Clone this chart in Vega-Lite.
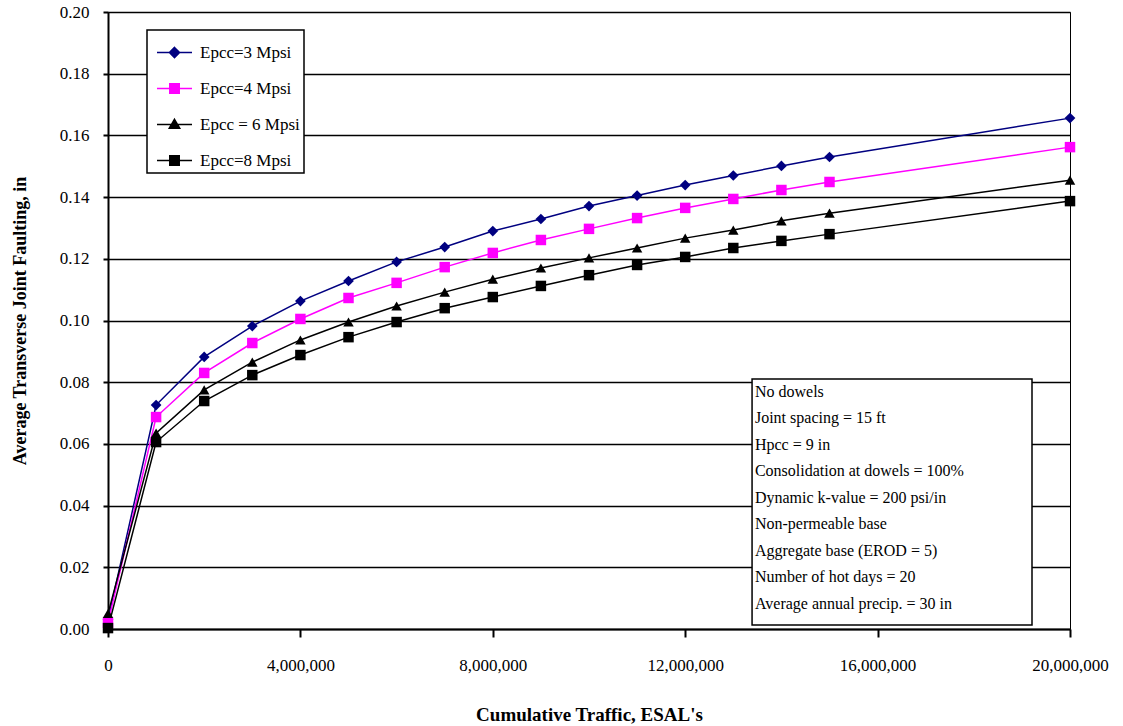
{
  "$schema": "https://vega.github.io/schema/vega-lite/v6.json",
  "width": 962,
  "height": 617,
  "autosize": {"type": "none"},
  "padding": {"left": 108, "top": 12, "right": 53, "bottom": 97},
  "background": "white",
  "config": {
    "view": {"stroke": "black", "strokeWidth": 1},
    "font": "Liberation Serif",
    "axis": {"labelFont": "Liberation Serif", "titleFont": "Liberation Serif", "labelColor": "black", "titleColor": "black"}
  },
  "datasets": {
    "faulting": [
      {"esal": 0, "fault": 0.003, "series": "Epcc=3 Mpsi"},
      {"esal": 1000000, "fault": 0.0726, "series": "Epcc=3 Mpsi"},
      {"esal": 2000000, "fault": 0.0882, "series": "Epcc=3 Mpsi"},
      {"esal": 3000000, "fault": 0.0982, "series": "Epcc=3 Mpsi"},
      {"esal": 4000000, "fault": 0.1063, "series": "Epcc=3 Mpsi"},
      {"esal": 5000000, "fault": 0.1128, "series": "Epcc=3 Mpsi"},
      {"esal": 6000000, "fault": 0.119, "series": "Epcc=3 Mpsi"},
      {"esal": 7000000, "fault": 0.1238, "series": "Epcc=3 Mpsi"},
      {"esal": 8000000, "fault": 0.129, "series": "Epcc=3 Mpsi"},
      {"esal": 9000000, "fault": 0.1329, "series": "Epcc=3 Mpsi"},
      {"esal": 10000000, "fault": 0.1371, "series": "Epcc=3 Mpsi"},
      {"esal": 11000000, "fault": 0.1405, "series": "Epcc=3 Mpsi"},
      {"esal": 12000000, "fault": 0.1439, "series": "Epcc=3 Mpsi"},
      {"esal": 13000000, "fault": 0.1470, "series": "Epcc=3 Mpsi"},
      {"esal": 14000000, "fault": 0.1501, "series": "Epcc=3 Mpsi"},
      {"esal": 15000000, "fault": 0.153, "series": "Epcc=3 Mpsi"},
      {"esal": 20000000, "fault": 0.1656, "series": "Epcc=3 Mpsi"},
      {"esal": 0, "fault": 0.002, "series": "Epcc=4 Mpsi"},
      {"esal": 1000000, "fault": 0.0687, "series": "Epcc=4 Mpsi"},
      {"esal": 2000000, "fault": 0.083, "series": "Epcc=4 Mpsi"},
      {"esal": 3000000, "fault": 0.0927, "series": "Epcc=4 Mpsi"},
      {"esal": 4000000, "fault": 0.1005, "series": "Epcc=4 Mpsi"},
      {"esal": 5000000, "fault": 0.1073, "series": "Epcc=4 Mpsi"},
      {"esal": 6000000, "fault": 0.1122, "series": "Epcc=4 Mpsi"},
      {"esal": 7000000, "fault": 0.1173, "series": "Epcc=4 Mpsi"},
      {"esal": 8000000, "fault": 0.1219, "series": "Epcc=4 Mpsi"},
      {"esal": 9000000, "fault": 0.1261, "series": "Epcc=4 Mpsi"},
      {"esal": 10000000, "fault": 0.1297, "series": "Epcc=4 Mpsi"},
      {"esal": 11000000, "fault": 0.1332, "series": "Epcc=4 Mpsi"},
      {"esal": 12000000, "fault": 0.1365, "series": "Epcc=4 Mpsi"},
      {"esal": 13000000, "fault": 0.1394, "series": "Epcc=4 Mpsi"},
      {"esal": 14000000, "fault": 0.1423, "series": "Epcc=4 Mpsi"},
      {"esal": 15000000, "fault": 0.1449, "series": "Epcc=4 Mpsi"},
      {"esal": 20000000, "fault": 0.1562, "series": "Epcc=4 Mpsi"},
      {"esal": 0, "fault": 0.005, "series": "Epcc = 6 Mpsi"},
      {"esal": 1000000, "fault": 0.0635, "series": "Epcc = 6 Mpsi"},
      {"esal": 2000000, "fault": 0.0775, "series": "Epcc = 6 Mpsi"},
      {"esal": 3000000, "fault": 0.0865, "series": "Epcc = 6 Mpsi"},
      {"esal": 4000000, "fault": 0.0937, "series": "Epcc = 6 Mpsi"},
      {"esal": 5000000, "fault": 0.0995, "series": "Epcc = 6 Mpsi"},
      {"esal": 6000000, "fault": 0.1047, "series": "Epcc = 6 Mpsi"},
      {"esal": 7000000, "fault": 0.1092, "series": "Epcc = 6 Mpsi"},
      {"esal": 8000000, "fault": 0.1134, "series": "Epcc = 6 Mpsi"},
      {"esal": 9000000, "fault": 0.117, "series": "Epcc = 6 Mpsi"},
      {"esal": 10000000, "fault": 0.1203, "series": "Epcc = 6 Mpsi"},
      {"esal": 11000000, "fault": 0.1235, "series": "Epcc = 6 Mpsi"},
      {"esal": 12000000, "fault": 0.1267, "series": "Epcc = 6 Mpsi"},
      {"esal": 13000000, "fault": 0.1293, "series": "Epcc = 6 Mpsi"},
      {"esal": 14000000, "fault": 0.1323, "series": "Epcc = 6 Mpsi"},
      {"esal": 15000000, "fault": 0.1348, "series": "Epcc = 6 Mpsi"},
      {"esal": 20000000, "fault": 0.1455, "series": "Epcc = 6 Mpsi"},
      {"esal": 0, "fault": 0.0003, "series": "Epcc=8 Mpsi"},
      {"esal": 1000000, "fault": 0.0606, "series": "Epcc=8 Mpsi"},
      {"esal": 2000000, "fault": 0.0739, "series": "Epcc=8 Mpsi"},
      {"esal": 3000000, "fault": 0.0823, "series": "Epcc=8 Mpsi"},
      {"esal": 4000000, "fault": 0.0888, "series": "Epcc=8 Mpsi"},
      {"esal": 5000000, "fault": 0.0946, "series": "Epcc=8 Mpsi"},
      {"esal": 6000000, "fault": 0.0995, "series": "Epcc=8 Mpsi"},
      {"esal": 7000000, "fault": 0.104, "series": "Epcc=8 Mpsi"},
      {"esal": 8000000, "fault": 0.1076, "series": "Epcc=8 Mpsi"},
      {"esal": 9000000, "fault": 0.1112, "series": "Epcc=8 Mpsi"},
      {"esal": 10000000, "fault": 0.1147, "series": "Epcc=8 Mpsi"},
      {"esal": 11000000, "fault": 0.118, "series": "Epcc=8 Mpsi"},
      {"esal": 12000000, "fault": 0.1206, "series": "Epcc=8 Mpsi"},
      {"esal": 13000000, "fault": 0.1235, "series": "Epcc=8 Mpsi"},
      {"esal": 14000000, "fault": 0.1258, "series": "Epcc=8 Mpsi"},
      {"esal": 15000000, "fault": 0.128, "series": "Epcc=8 Mpsi"},
      {"esal": 20000000, "fault": 0.1387, "series": "Epcc=8 Mpsi"}
    ],
    "note": [{"label": "conditions"}]
  },
  "layer": [
    {
      "data": {"name": "faulting"},
      "mark": {"type": "line", "strokeWidth": 1.5},
      "encoding": {
        "x": {
          "field": "esal", "type": "quantitative",
          "scale": {"domain": [0, 20000000], "nice": false},
          "axis": {
            "title": "Cumulative Traffic, ESAL's",
            "values": [0, 4000000, 8000000, 12000000, 16000000, 20000000],
            "format": ",",
            "labelExpr": "format(datum.value, ',')",
            "grid": false,
            "domainColor": "black", "domainWidth": 2,
            "tickColor": "black", "tickWidth": 2, "tickSize": 8,
            "labelFontSize": 17, "labelPadding": 20, "labelFlush": false, "labelOverlap": false,
            "titleFontSize": 19, "titleFontWeight": "bold",
            "titleY": 85, "titleBaseline": "middle"
          }
        },
        "y": {
          "field": "fault", "type": "quantitative",
          "scale": {"domain": [0, 0.2], "nice": false},
          "axis": {
            "title": "Average Transverse Joint Faulting, in",
            "values": [0, 0.02, 0.04, 0.06, 0.08, 0.1, 0.12, 0.14, 0.16, 0.18, 0.2],
            "format": ".2f",
            "grid": true, "gridColor": "black", "gridWidth": 1.5, "gridOpacity": 1,
            "domainColor": "black", "domainWidth": 2,
            "tickColor": "black", "tickWidth": 2, "tickSize": 5,
            "labelFontSize": 17, "labelPadding": 14,
            "titleFontSize": 18, "titleFontWeight": "bold",
            "titleX": -88, "titleBaseline": "middle"
          }
        },
        "color": {
          "field": "series", "type": "nominal",
          "scale": {"domain": ["Epcc=3 Mpsi", "Epcc=4 Mpsi", "Epcc = 6 Mpsi", "Epcc=8 Mpsi"], "range": ["#000080", "#FF00FF", "#000000", "#000000"]},
          "legend": {
            "title": null,
            "orient": "none",
            "legendX": 39,
            "legendY": 18,
            "padding": 4,
            "fillColor": "white",
            "strokeColor": "black",
            "symbolSize": 1225,
            "symbolOffset": 5,
            "labelOffset": 7,
            "rowPadding": 9,
            "labelFont": "Liberation Serif",
            "labelFontSize": 17,
            "labelColor": "black",
            "encode": {
              "legend": {"update": {"strokeWidth": {"value": 1.5}}},
              "symbols": {
                "update": {
                  "shape": {"signal": "datum.value == 'Epcc=3 Mpsi' ? 'M-1,0H1M0,-0.29L0.29,0L0,0.29L-0.29,0Z' : datum.value == 'Epcc = 6 Mpsi' ? 'M-1,0H1M0,-0.3L0.3,0.22L-0.3,0.22Z' : 'M-1,0H1M-0.27,-0.27H0.27V0.27H-0.27Z'"},
                  "fill": {"signal": "scale('color', datum.value)"},
                  "stroke": {"signal": "scale('color', datum.value)"},
                  "strokeWidth": {"value": 1.5},
                  "opacity": {"value": 1},
                  "fillOpacity": {"value": 1}
                }
              }
            }
          }
        },
        "detail": {"field": "series"}
      }
    },
    {
      "data": {"name": "faulting"},
      "transform": [{"filter": "datum.series == 'Epcc=3 Mpsi'"}],
      "mark": {"type": "point", "shape": "diamond", "filled": true, "opacity": 1, "size": 115},
      "encoding": {
        "x": {"field": "esal", "type": "quantitative"},
        "y": {"field": "fault", "type": "quantitative"},
        "color": {"field": "series", "type": "nominal"}
      }
    },
    {
      "data": {"name": "faulting"},
      "transform": [{"filter": "datum.series == 'Epcc=4 Mpsi' || datum.series == 'Epcc=8 Mpsi'"}],
      "mark": {"type": "point", "shape": "square", "filled": true, "opacity": 1, "size": 110},
      "encoding": {
        "x": {"field": "esal", "type": "quantitative"},
        "y": {"field": "fault", "type": "quantitative"},
        "color": {"field": "series", "type": "nominal"}
      }
    },
    {
      "data": {"name": "faulting"},
      "transform": [{"filter": "datum.series == 'Epcc = 6 Mpsi'"}],
      "mark": {"type": "point", "shape": "triangle-up", "filled": true, "opacity": 1, "size": 110},
      "encoding": {
        "x": {"field": "esal", "type": "quantitative"},
        "y": {"field": "fault", "type": "quantitative"},
        "color": {"field": "series", "type": "nominal"}
      }
    },
    {
      "data": {"name": "note"},
      "mark": {"type": "rect", "fill": "white", "stroke": "black", "strokeWidth": 1.5},
      "encoding": {
        "x": {"datum": 13390000, "type": "quantitative"},
        "x2": {"datum": 19210000},
        "y": {"datum": 0.081, "type": "quantitative"},
        "y2": {"datum": 0.0013}
      }
    },
    {
      "data": {"name": "note"},
      "mark": {
        "type": "text",
        "text": ["No dowels", "Joint spacing = 15 ft", "Hpcc = 9 in", "Consolidation at dowels = 100%", "Dynamic k-value = 200 psi/in", "Non-permeable base", "Aggregate base (EROD = 5)", "Number of hot days = 20", "Average annual precip. = 30 in"],
        "font": "Liberation Serif",
        "fontSize": 16,
        "lineHeight": 26.5,
        "align": "left",
        "baseline": "top",
        "color": "black"
      },
      "encoding": {
        "x": {"datum": 13450000, "type": "quantitative"},
        "y": {"datum": 0.0795, "type": "quantitative"}
      }
    }
  ]
}
